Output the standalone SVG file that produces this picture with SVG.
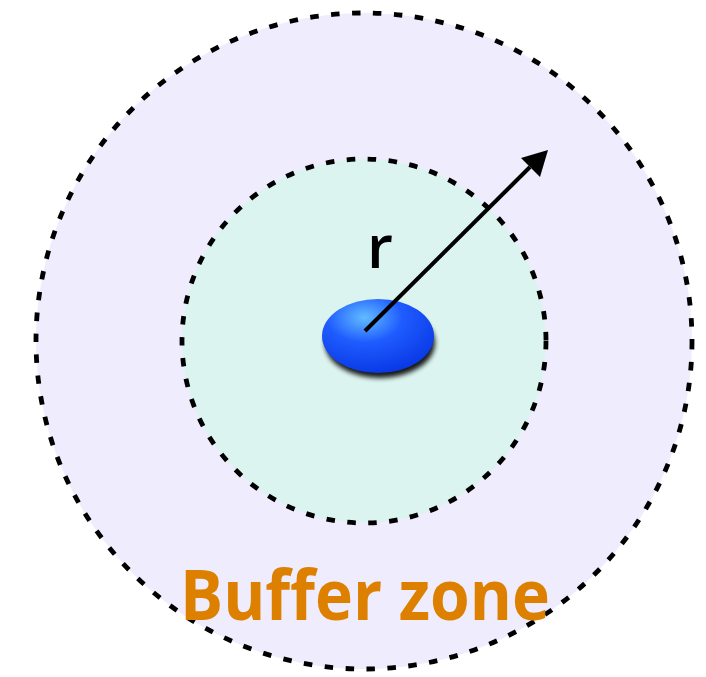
<svg xmlns="http://www.w3.org/2000/svg" width="706" height="677" viewBox="0 0 706 677">
<defs>
<style>
.zone{stroke:#000;stroke-width:4.8;stroke-dasharray:8.5 12.5}
</style>
<radialGradient id="blob" cx="0.38" cy="0.25" r="0.75">
<stop offset="0" stop-color="#62bcff"/>
<stop offset="0.45" stop-color="#1f5cff"/>
<stop offset="1" stop-color="#0a3ae6"/>
</radialGradient>
<filter id="sh" x="-30%" y="-30%" width="160%" height="170%">
<feGaussianBlur stdDeviation="2.5"/>
</filter>
</defs>
<rect width="706" height="677" fill="#fff"/>
<g id="outer">
<circle class="zone" cx="364" cy="341" r="328" fill="#efecfd"/>
</g>
<g id="inner">
<circle class="zone" cx="364" cy="341" r="182" fill="#dcf4ef"/>
</g>
<g id="particle">
<ellipse cx="380" cy="343" rx="55" ry="35" fill="#000" opacity="0.9" filter="url(#sh)"/>
<ellipse cx="378" cy="336" rx="56" ry="37" fill="url(#blob)"/>
</g>
<g id="connectors">
<line x1="365" y1="331" x2="530" y2="167" stroke="#000" stroke-width="4"/>
<polygon points="548,150 521,158 540,177" fill="#000"/>
</g>
<g id="labels">
<text x="380" y="268" font-family="'Open Sans', sans-serif" font-weight="600" font-size="60" text-anchor="middle" fill="#000">r</text>
<text x="365" y="620" font-family="'Open Sans', sans-serif" font-weight="bold" font-size="70" text-anchor="middle" fill="#dd8000" textLength="370" lengthAdjust="spacingAndGlyphs">Buffer zone</text>
</g>
</svg>
